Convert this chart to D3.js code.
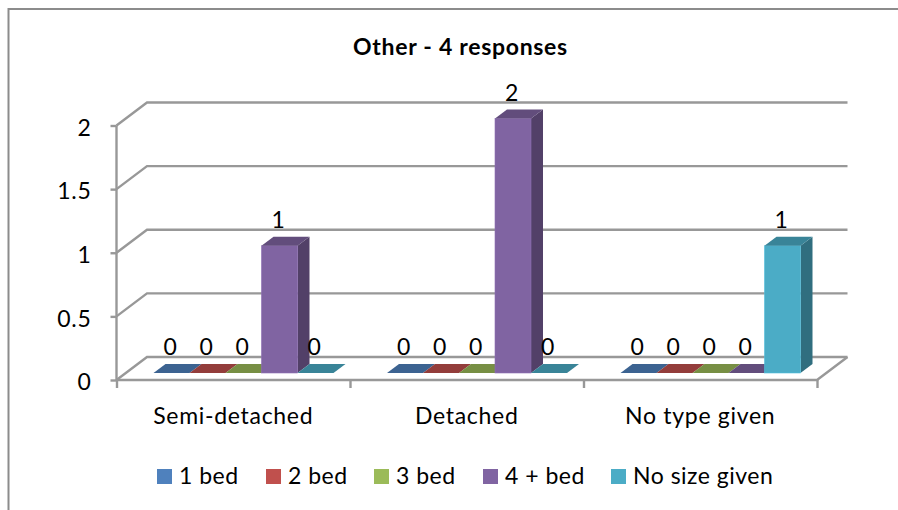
<!DOCTYPE html>
<html>
<head>
<meta charset="utf-8">
<title>Other - 4 responses</title>
<script src="https://d3js.org/d3.v7.min.js"></script>
<style>
  html, body { margin: 0; padding: 0; background: #fff; }
  svg { display: block; font-family: Lato, "Open Sans", sans-serif; }
  text { letter-spacing: 0.7px; }
</style>
</head>
<body>
<svg width="898" height="510"></svg>
<script>
var title = "Other - 4 responses";
var categories = ["Semi-detached", "Detached", "No type given"];
var seriesNames = ["1 bed", "2 bed", "3 bed", "4 + bed", "No size given"];
var bed1 = [0, 0, 0];
var bed2 = [0, 0, 0];
var bed3 = [0, 0, 0];
var bed4 = [1, 2, 0];
var noSize = [0, 0, 1];
var seriesValues = [bed1, bed2, bed3, bed4, noSize];
var yTicks = [0, 0.5, 1, 1.5, 2];
var colors = ["#4f81bd", "#c0504d", "#9bbb59", "#8064a2", "#4bacc6"];

var svg = d3.select("svg");
var gridColor = "#989898";
var lineWidth = 2.4;
var fontSize = 23;

// plot box, front left corner is the axis origin
var left = 116.5, right = 817, bottom = 380, top2 = 125.5;
var wallX = 30.5, wallY = 23;   // how far the back wall sits from the front
var barDX = 12, barDY = 9;      // depth of a bar

var y = d3.scaleLinear().domain([0, 2]).range([bottom, top2]);
var x0 = d3.scaleBand().domain(categories).range([left, right]);
var x1 = d3.scaleBand().domain(d3.range(seriesNames.length)).range([37, 217]);

// chart border
svg.append("path")
  .attr("d", "M8.5,510V9H898")
  .attr("fill", "none").attr("stroke", "#8c8c8c").attr("stroke-width", 2);

svg.append("text").attr("x", 460.5).attr("y", 55)
  .attr("text-anchor", "middle")
  .attr("font-size", fontSize).attr("font-weight", 700).attr("fill", "#000")
  .text(title);

// gridlines with the bit that runs up the side wall
yTicks.forEach(function(t) {
  svg.append("path")
    .attr("d", "M" + left + "," + y(t) + "L" + (left + wallX) + "," + (y(t) - wallY) + "H" + (right + wallX))
    .attr("fill", "none").attr("stroke", gridColor).attr("stroke-width", lineWidth);
});

// floor
svg.append("path")
  .attr("d", "M" + left + "," + bottom + "H" + right + "L" + (right + wallX) + "," + (bottom - wallY))
  .attr("fill", "none").attr("stroke", gridColor).attr("stroke-width", lineWidth);

// axes
var yAxis = d3.axisLeft(y).tickValues(yTicks).tickSize(6).tickPadding(19).tickFormat(function(d) { return d; });
var gy = svg.append("g").attr("transform", "translate(" + left + ",0)").call(yAxis);
var xAxis = d3.axisBottom(d3.scaleLinear().domain([0, 3]).range([left, right])).tickValues([0, 1, 2, 3]).tickSize(8).tickFormat("");
var gx = svg.append("g").attr("transform", "translate(0," + bottom + ")").call(xAxis);
[gy, gx].forEach(function(g) {
  g.selectAll("path,line").attr("stroke", gridColor).attr("stroke-width", lineWidth);
});
gy.select(".domain").attr("d", "M0," + top2 + "V" + bottom);
gx.select(".domain").remove();
gy.selectAll("text").attr("font-size", fontSize).attr("font-family", "Lato").attr("fill", "#000").attr("dy", "0.42em");

categories.forEach(function(c) {
  svg.append("text")
    .attr("x", x0(c) + x0.bandwidth() / 2)
    .attr("y", 424)
    .attr("text-anchor", "middle")
    .attr("font-size", fontSize).attr("fill", "#000")
    .text(c);
});

// bars, y scale is shifted up because the bars stand in from the front of the floor
var baseShift = 7;
seriesNames.forEach(function(name, s) {
  var col = d3.color(colors[s]);
  categories.forEach(function(c, i) {
    var v = seriesValues[s][i];
    var xa = x0(c) + x1(s), xb = xa + x1.bandwidth();
    var yb = y(0) - baseShift, yt = y(v) - baseShift;
    var g = svg.append("g");
    if (v > 0) {
      g.append("path")
        .attr("d", "M" + xb + "," + yb + "V" + yt + "l" + barDX + "," + (-barDY) + "V" + (yb - barDY) + "Z")
        .attr("fill", col.darker(1.25));
      g.append("rect")
        .attr("x", xa).attr("y", yt).attr("width", xb - xa).attr("height", yb - yt)
        .attr("fill", col).attr("stroke", col.brighter(0.3)).attr("stroke-width", 0.6);
    }
    g.append("path")
      .attr("d", "M" + xa + "," + yt + "H" + xb + "l" + barDX + "," + (-barDY) + "H" + (xa + barDX) + "Z")
      .attr("fill", col.darker(0.75));
  });
});

// value labels go on top of everything
seriesNames.forEach(function(name, s) {
  categories.forEach(function(c, i) {
    var v = seriesValues[s][i];
    svg.append("text")
      .attr("x", x0(c) + x1(s) + x1.bandwidth() / 2 - 1)
      .attr("y", y(v) - baseShift - barDY - 9)
      .attr("text-anchor", "middle")
      .attr("font-size", fontSize).attr("fill", "#000")
      .text(v);
  });
});

// legend
var legendX = [157, 266, 374, 483, 611];
seriesNames.forEach(function(name, s) {
  svg.append("rect").attr("x", legendX[s]).attr("y", 469).attr("width", 15).attr("height", 15).attr("fill", colors[s]);
  svg.append("text").attr("x", legendX[s] + 22).attr("y", 484)
    .attr("font-size", fontSize).attr("letter-spacing", "0.5px").style("letter-spacing", "0.5px").attr("fill", "#000").text(name);
});
</script>
</body>
</html>
